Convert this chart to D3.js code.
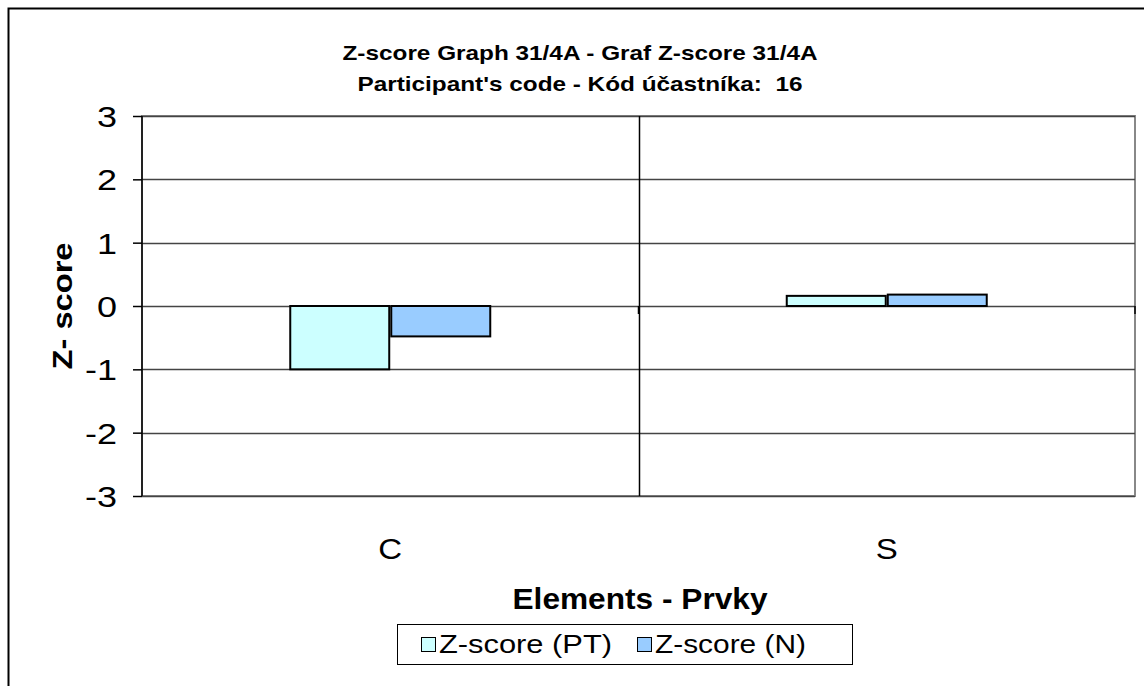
<!DOCTYPE html>
<html><head><meta charset="utf-8">
<script src="https://cdn.jsdelivr.net/npm/d3@7"></script>
<style>body{margin:0;background:#fff}svg{display:block;font-family:"Liberation Sans",Arial,sans-serif}</style>
</head><body>
<svg id="c" width="1144" height="686"></svg>
<script>
const categories = ["C", "S"];
const seriesNames = ["Z-score (PT)", "Z-score (N)"];
const seriesPT = [-1.0, 0.16];
const seriesN = [-0.48, 0.18];
const yTicks = [-3, -2, -1, 0, 1, 2, 3];
const titleLines = ["Z-score Graph 31/4A - Graf Z-score 31/4A", "Participant's code - Kód účastníka:  16"];
const colors = ["#ccffff", "#99ccff"];

const svg = d3.select("#c");
const SX = 1.2; // horizontal stretch seen in the reference text

function stext(parent, x, y, str, size, weight, anchor, sx) {
  return parent.append("text")
    .attr("transform", `translate(${x},${y}) scale(${sx},1)`)
    .attr("text-anchor", anchor).attr("font-size", size)
    .attr("font-weight", weight).attr("fill", "#000")
    .style("white-space", "pre").text(str);
}

// outer chart border (clipped at right/bottom)
svg.append("rect").attr("x", 8.5).attr("y", 8.5).attr("width", 1160).attr("height", 700)
  .attr("fill", "#fff").attr("stroke", "#000").attr("stroke-width", 2);

const L = 142, R = 1135, T = 116, B = 496;
const x = d3.scaleBand().domain(categories).range([L, R]);
const y = d3.scaleLinear().domain([-3, 3]).range([B, T]);
const xs = d3.scaleBand().domain(seriesNames).range([0, 200]).paddingInner(0.02);

// plot area border
svg.append("rect").attr("x", L).attr("y", T).attr("width", R - L).attr("height", B - T)
  .attr("fill", "none").attr("stroke", "#888").attr("stroke-width", 2);

// horizontal gridlines
svg.append("g").selectAll("line").data(yTicks).join("line")
  .attr("x1", L).attr("x2", R).attr("y1", d => Math.round(y(d)) + 0.5).attr("y2", d => Math.round(y(d)) + 0.5)
  .attr("stroke", "#444").attr("stroke-width", 1.3);

// vertical category gridlines (between categories)
svg.append("g").selectAll("line").data(categories.slice(1)).join("line")
  .attr("x1", d => Math.round(x(d)) + 0.5).attr("x2", d => Math.round(x(d)) + 0.5)
  .attr("y1", T).attr("y2", B).attr("stroke", "#000").attr("stroke-width", 1.5);

// bars
const data = [];
categories.forEach((c, i) => {
  data.push({c, s: seriesNames[0], v: seriesPT[i], col: colors[0]});
  data.push({c, s: seriesNames[1], v: seriesN[i], col: colors[1]});
});
svg.append("g").selectAll("rect").data(data).join("rect")
  .attr("x", d => x(d.c) + x.bandwidth() / 2 - 100 + xs(d.s))
  .attr("width", xs.bandwidth())
  .attr("y", d => y(Math.max(0, d.v)))
  .attr("height", d => Math.abs(y(d.v) - y(0)))
  .attr("fill", d => d.col).attr("stroke", "#000").attr("stroke-width", 2);

// category axis ticks at zero line
svg.append("g").selectAll("line").data(categories.slice(1).concat(["end"])).join("line")
  .attr("x1", d => d === "end" ? R : x(d)).attr("x2", d => d === "end" ? R : x(d))
  .attr("y1", y(0)).attr("y2", y(0) + 8).attr("stroke", "#000").attr("stroke-width", 1.5);

// y axis
const yAxis = d3.axisLeft(y).tickValues(yTicks).tickSize(9).tickFormat("");
const ga = svg.append("g").attr("transform", `translate(${L},0)`).call(yAxis);
ga.select(".domain").attr("stroke", "#000").attr("stroke-width", 1.5).attr("d", `M0,${T}V${B}`);
ga.selectAll(".tick line").attr("stroke", "#000").attr("stroke-width", 1.5);
const tl = svg.append("g");
yTicks.forEach(t => stext(tl, 117, y(t) + 11, String(t), 30, "normal", "end", SX));

// category labels
const cl = svg.append("g");
categories.forEach(c => stext(cl, x(c) + x.bandwidth() / 2, 559, c, 30, "normal", "middle", 1.1));

// titles
svg.append("g").selectAll("text").data(titleLines).join("text")
  .attr("x", 580).attr("y", (d, i) => 60 + i * 31).attr("text-anchor", "middle")
  .attr("font-size", 21).attr("font-weight", "bold").style("white-space", "pre")
  .attr("textLength", (d, i) => [475, 445][i]).attr("lengthAdjust", "spacingAndGlyphs")
  .text(d => d);

svg.append("text").attr("x", 640).attr("y", 609).attr("text-anchor", "middle")
  .attr("font-size", 29).attr("font-weight", "bold")
  .attr("textLength", 255).attr("lengthAdjust", "spacingAndGlyphs").text("Elements - Prvky");

svg.append("text").attr("transform", "translate(72,306) rotate(-90)").attr("text-anchor", "middle")
  .attr("font-size", 27).attr("font-weight", "bold")
  .attr("textLength", 127).attr("lengthAdjust", "spacingAndGlyphs").text("Z- score");

// legend
const lg = svg.append("g");
lg.append("rect").attr("x", 397.5).attr("y", 624.5).attr("width", 455).attr("height", 40)
  .attr("fill", "#fff").attr("stroke", "#000").attr("stroke-width", 1);
const lx = [421, 637];
const lw = [173, 151];
seriesNames.forEach((s, i) => {
  lg.append("rect").attr("x", lx[i] + 0.5).attr("y", 637.5).attr("width", 14).attr("height", 14)
    .attr("fill", colors[i]).attr("stroke", "#000").attr("stroke-width", 1);
  lg.append("text").attr("x", lx[i] + 18).attr("y", 653).attr("font-size", 25)
    .attr("textLength", lw[i]).attr("lengthAdjust", "spacingAndGlyphs").text(s);
});
</script>
</body></html>
